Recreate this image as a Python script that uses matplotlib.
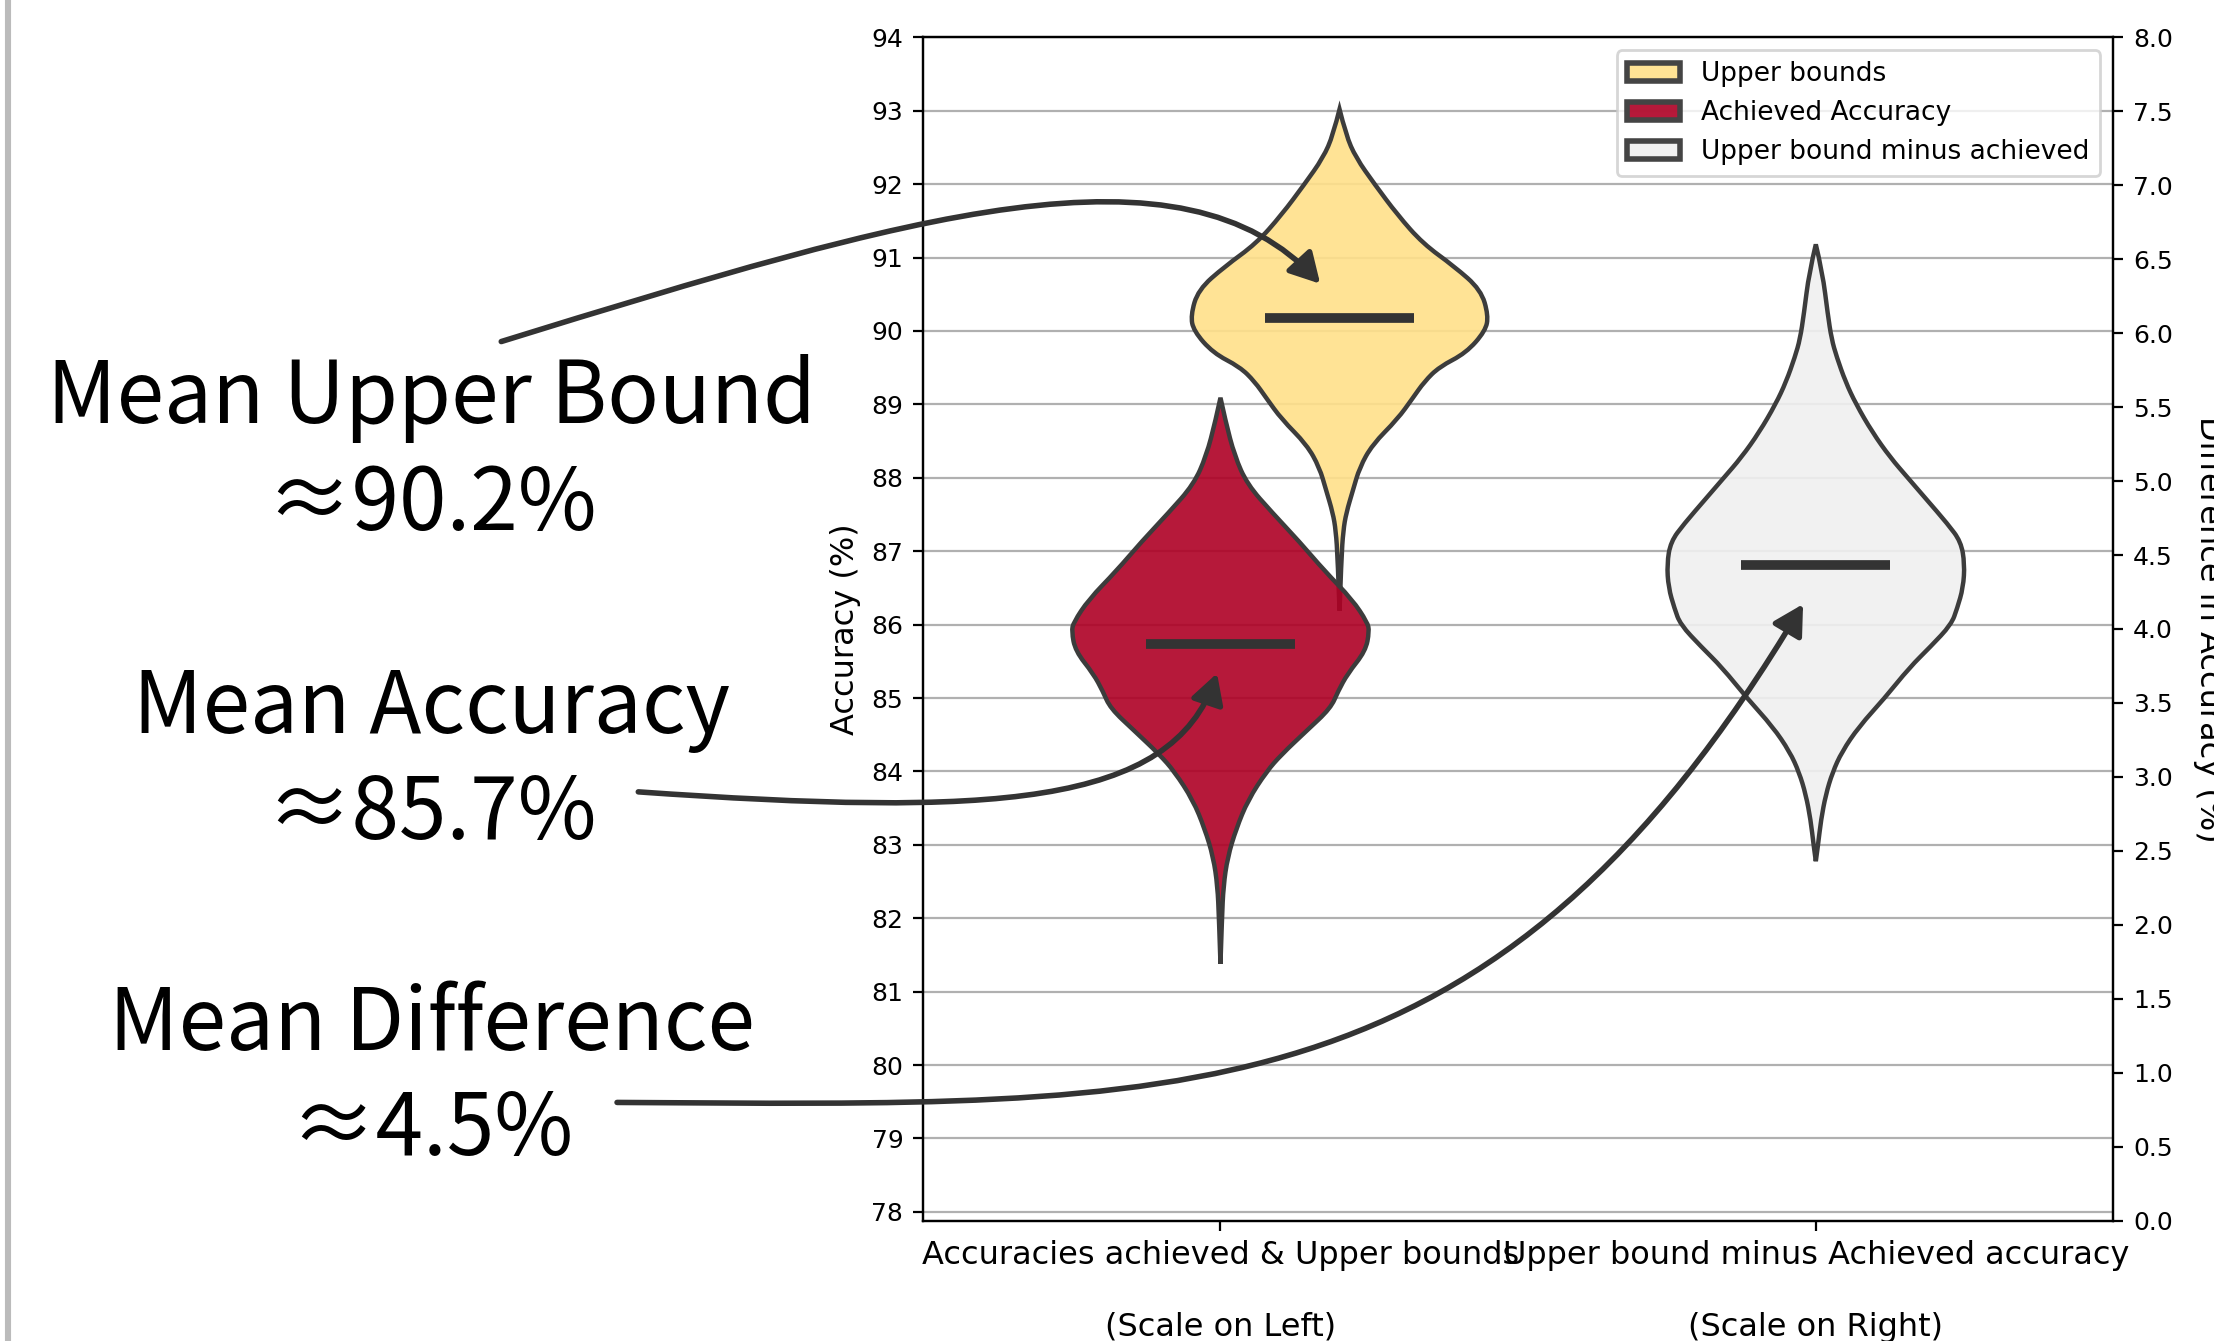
import numpy as np
import matplotlib.pyplot as plt
from matplotlib.patches import Patch, PathPatch, FancyArrowPatch
from matplotlib.path import Path
from matplotlib.lines import Line2D

# x categories and legend
categories = ['Accuracies achieved & Upper bounds\n\n(Scale on Left)',
              'Upper bound minus Achieved accuracy\n\n(Scale on Right)']
legend_labels = ['Upper bounds', 'Achieved Accuracy', 'Upper bound minus achieved']

# violin outlines: value, relative half width
upper_y = [93.02, 92.67, 92.36, 92.0, 91.58, 91.19, 90.88, 90.56, 90.21, 90.0,
           89.70, 89.51, 89.31, 89.08, 88.80, 88.45, 88.14, 87.83, 87.52, 87.28,
           86.89, 86.19]
upper_w = [0, .043, .11, .235, .39, .56, .77, .95, 1.0, .98,
           .85, .67, .57, .49, .39, .22, .135, .09, .045, .025,
           .012, 0]

acc_y = [89.09, 88.77, 88.30, 87.91, 87.52, 87.13, 86.73, 86.34, 86.03, 85.91,
         85.64, 85.33, 85.09, 84.86, 84.55, 84.23, 84.0, 83.61, 83.22, 82.83,
         82.44, 82.0, 81.38]
acc_w = [0, .034, .095, .18, .35, .53, .70, .886, .987, 1.0,
         .975, .854, .79, .74, .577, .41, .31, .185, .106, .048,
         .02, .01, 0]

diff_y = [6.60, 6.41, 6.13, 5.96, 5.84, 5.67, 5.52, 5.33, 5.16, 5.02,
          4.88, 4.71, 4.59, 4.44, 4.28, 4.14, 4.03, 3.88, 3.74, 3.53,
          3.34, 3.17, 3.03, 2.88, 2.71, 2.54, 2.43]
diff_w = [0, .045, .08, .106, .14, .20, .27, .38, .50, .62,
          .74, .886, .975, 1.0, .99, .95, .91, .77, .63, .46,
          .29, .175, .112, .067, .035, .015, 0]

upper_mean = 90.18
acc_mean = 85.73
diff_mean = 4.43

notes = [('Mean Upper Bound', '\u224890.2%'),
         ('Mean Accuracy', '\u224885.7%'),
         ('Mean Difference', '\u22484.5%')]

colors = {'upper': (1.0, 0.878, 0.541, 0.9),
          'acc': (0.682, 0.0, 0.141, 0.9),
          'diff': (0.941, 0.941, 0.941, 0.9)}
edge = '#3c3c3c'
half = 0.25


def smooth_side(pts):
    # quadratic b-spline through the outline points, tips kept as corners
    verts = [pts[0]]
    codes = []
    for i in range(1, len(pts) - 2):
        mid = ((pts[i][0] + pts[i + 1][0]) / 2, (pts[i][1] + pts[i + 1][1]) / 2)
        verts += [pts[i], mid]
        codes += [Path.CURVE3, Path.CURVE3]
    verts += [pts[-2], pts[-1]]
    codes += [Path.CURVE3, Path.CURVE3]
    return verts, codes


def draw_violin(ax, pos, ys, ws, color, mean):
    ws = np.asarray(ws) * half
    right = list(zip(pos + ws, ys))
    left = list(zip(pos - ws, ys))[::-1]
    rv, rc = smooth_side(right)
    lv, lc = smooth_side(left)
    verts = rv + lv[1:] + [rv[0]]
    codes = [Path.MOVETO] + rc + lc + [Path.CLOSEPOLY]
    ax.add_patch(PathPatch(Path(verts, codes), facecolor=color,
                           edgecolor=edge, linewidth=1.6, zorder=2))
    ax.plot([pos - half / 2, pos + half / 2], [mean, mean], color='#333333',
            lw=3.5, solid_capstyle='butt', zorder=3)


fig = plt.figure(figsize=(11.07, 6.705), dpi=200)
ax = fig.add_axes([0.4168, 0.0897, 0.5378, 0.8825])
ax2 = ax.twinx()

draw_violin(ax, 0.2, upper_y, upper_w, colors['upper'], upper_mean)
draw_violin(ax, 0.0, acc_y, acc_w, colors['acc'], acc_mean)
draw_violin(ax2, 1.0, diff_y, diff_w, colors['diff'], diff_mean)

ax.set_xlim(-0.5, 1.5)
ax.set_ylim(77.88, 94)
ax2.set_ylim(0, 8)
ax.set_xticks([0, 1])
ax.set_xticklabels(categories, fontsize=11.5)
ax.set_yticks(np.arange(78, 95, 1))
ax.tick_params(axis='y', labelsize=9)
ax2.set_yticks(np.arange(0, 8.01, 0.5))
ax2.set_yticklabels(['%.1f' % v for v in np.arange(0, 8.01, 0.5)])
ax2.tick_params(axis='y', labelsize=9)
ax.yaxis.grid(True, color='#b0b0b0', lw=0.8)
ax.set_axisbelow(True)

ax.set_ylabel('Accuracy (%)', fontsize=11.5)
ax.yaxis.set_label_coords(-0.052, 0.5)
fig.text(0.9903, 0.531, 'Difference in Accuracy (%)', rotation=270,
         ha='left', va='center', fontsize=11.5)

handles = [Patch(facecolor=colors[k], edgecolor='#444444', lw=2, label=l)
           for k, l in zip(['upper', 'acc', 'diff'], legend_labels)]
ax2.legend(handles=handles, loc='upper right', fontsize=9.5)

# big annotations on the left
big = dict(family=['Noto Sans CJK JP', 'DejaVu Sans'], fontsize=30.8,
           ha='center', va='baseline')
baselines = [(0.6845, 0.6047), (0.4531, 0.3742), (0.2173, 0.1384)]
for (l1, l2), (b1, b2) in zip(notes, baselines):
    fig.text(0.195, b1, l1, **big)
    fig.text(0.195, b2, l2, **big)

# curved arrows (figure fraction)
arrows = [[(0.2264, 0.7453), (0.4120, 0.8400), (0.5340, 0.9000), (0.5963, 0.7884)],
          [(0.2883, 0.4095), (0.4477, 0.3911), (0.5293, 0.3979), (0.5497, 0.4979)],
          [(0.2787, 0.1779), (0.5338, 0.1758), (0.6741, 0.1611), (0.8144, 0.5495)]]
codes = [Path.MOVETO, Path.CURVE4, Path.CURVE4, Path.CURVE4]
for verts in arrows:
    arr = FancyArrowPatch(path=Path(verts, codes), transform=fig.transFigure,
                          arrowstyle='-|>,head_length=0.45,head_width=0.25',
                          mutation_scale=20, color='#333333', lw=2)
    fig.add_artist(arr)

fig.add_artist(Line2D([0.0036, 0.0036], [0, 1], color='#bbbbbb', lw=2.2,
                      transform=fig.transFigure))

fig.savefig('out.png', dpi=200)
